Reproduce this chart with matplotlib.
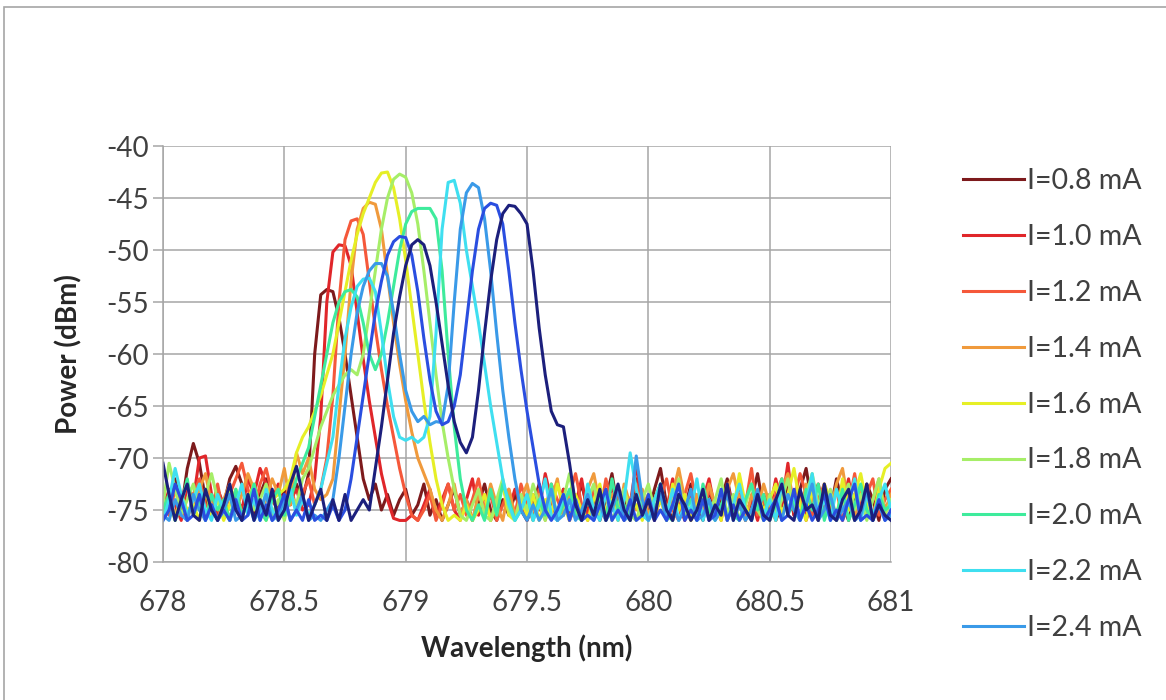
import numpy as np
import matplotlib
matplotlib.use("Agg")
import matplotlib.pyplot as plt
from matplotlib.patches import Rectangle

plt.rcParams['font.family'] = ['Lato', 'DejaVu Sans']
plt.rcParams['axes.unicode_minus'] = False

# wavelength grid of the OSA traces, 678 - 681 nm, 0.025 nm step
wavelength = np.linspace(678.0, 681.0, 121)

currents = ["0.8", "1.0", "1.2", "1.4", "1.6", "1.8", "2.0", "2.2", "2.4", "2.6", "2.8"]
colors = ["#7d1a1c", "#e0262a", "#f5583a", "#f09a3c", "#e6ef26", "#a6ee68",
          "#3eeb9c", "#3fdff0", "#3a9ae8", "#2a4ee0", "#1c1f7c"]
n_legend = 9  # only the first nine fit in the legend area

p08 = [-73.5,-74.5,-72.0,-75.0,-71.0,-68.6,-70.5,-74.0,-75.5,-73.0,
       -74.5,-72.0,-70.8,-72.5,-74.5,-75.5,-73.5,-72.0,-74.0,-75.0,
       -73.0,-74.5,-72.5,-74.0,-71.5,-60.0,-54.3,-53.8,-54.0,-56.5,
       -60.0,-64.0,-68.0,-72.0,-74.0,-72.5,-75.0,-73.5,-75.5,-74.0,
       -73.0,-75.5,-74.5,-72.5,-75.5,-74.0,-76.0,-74.5,-73.0,-75.5,
       -74.0,-76.0,-74.5,-72.5,-75.0,-76.0,-74.0,-75.5,-73.5,-75.0,
       -76.0,-74.5,-72.5,-75.5,-74.0,-76.0,-73.0,-75.5,-74.5,-72.5,
       -75.0,-73.5,-76.0,-74.0,-71.5,-75.0,-73.5,-76.0,-72.0,-74.5,
       -75.5,-73.0,-71.0,-74.5,-76.0,-73.5,-75.0,-72.5,-74.5,-76.0,
       -73.0,-75.5,-74.0,-72.0,-75.0,-73.5,-76.0,-74.0,-71.5,-75.0,
       -73.5,-76.0,-74.5,-72.5,-75.5,-73.0,-71.0,-74.5,-76.0,-73.5,
       -75.0,-72.0,-74.5,-76.0,-73.5,-75.0,-72.5,-74.0,-76.0,-73.0,-72.0]

p10 = [-75.0,-73.0,-74.5,-76.0,-72.5,-74.0,-70.0,-69.8,-73.5,-75.5,
       -74.0,-76.0,-73.5,-75.0,-72.0,-73.5,-71.0,-72.5,-74.0,-72.5,
       -75.5,-74.0,-73.0,-75.0,-74.5,-72.0,-66.0,-55.0,-50.2,-49.5,
       -49.6,-51.5,-56.0,-60.5,-64.5,-68.0,-71.5,-74.0,-75.8,-76.0,
       -76.0,-75.5,-76.0,-74.5,-73.0,-75.5,-74.0,-72.5,-75.0,-76.0,
       -74.0,-72.0,-75.5,-73.5,-76.0,-74.5,-72.5,-75.0,-73.0,-74.5,
       -76.0,-73.5,-75.0,-71.5,-74.0,-75.5,-73.0,-76.0,-74.5,-72.0,
       -75.5,-73.5,-74.5,-76.0,-72.5,-75.0,-73.0,-74.5,-70.5,-75.5,
       -74.0,-76.0,-73.5,-75.0,-72.0,-74.5,-76.0,-73.0,-75.5,-74.0,
       -72.0,-75.0,-73.5,-76.0,-74.5,-72.5,-75.5,-74.0,-76.0,-73.5,
       -75.0,-72.0,-74.5,-70.5,-75.5,-73.0,-76.0,-74.0,-72.5,-75.0,
       -73.5,-76.0,-74.5,-72.0,-75.5,-73.0,-74.5,-76.0,-72.5,-75.0,-74.0]

p12 = [-74.0,-75.5,-73.0,-74.5,-76.0,-73.5,-72.0,-74.5,-75.0,-72.5,
       -75.5,-73.5,-72.0,-70.5,-73.0,-75.0,-72.5,-71.0,-73.5,-75.5,
       -74.0,-72.5,-75.0,-73.5,-72.0,-74.5,-73.0,-70.0,-64.0,-55.0,
       -49.0,-47.2,-47.0,-48.5,-53.0,-57.5,-61.5,-65.0,-68.0,-71.0,
       -73.5,-75.5,-76.0,-75.0,-73.5,-76.0,-74.5,-72.5,-75.0,-73.5,
       -75.5,-74.0,-72.0,-75.0,-73.5,-76.0,-74.5,-73.0,-75.5,-72.5,
       -74.5,-76.0,-73.0,-75.0,-72.5,-74.0,-75.5,-73.5,-71.5,-74.5,
       -76.0,-73.0,-75.5,-72.0,-74.5,-73.5,-76.0,-74.0,-72.5,-75.0,
       -73.5,-75.5,-74.0,-72.0,-75.0,-76.0,-73.5,-71.5,-74.5,-75.5,
       -73.0,-74.5,-76.0,-72.5,-75.0,-73.5,-74.5,-71.0,-75.5,-74.0,
       -76.0,-73.5,-72.0,-75.0,-74.0,-71.5,-73.5,-75.5,-74.0,-72.5,
       -75.0,-73.0,-76.0,-74.5,-71.5,-75.0,-73.5,-72.0,-75.5,-74.0,-73.0]

p14 = [-75.0,-73.5,-75.5,-74.0,-72.5,-75.0,-73.0,-71.5,-74.5,-76.0,
       -74.0,-72.5,-75.0,-73.5,-71.5,-73.0,-75.5,-74.0,-72.0,-73.5,
       -71.0,-74.5,-69.5,-71.5,-70.0,-73.0,-74.0,-73.5,-72.0,-66.0,
       -60.0,-53.0,-48.0,-46.0,-45.4,-45.6,-48.0,-52.5,-57.0,-61.0,
       -64.5,-67.5,-70.0,-71.5,-73.0,-75.0,-76.0,-74.5,-72.5,-75.5,
       -74.0,-76.0,-73.5,-75.0,-72.5,-74.5,-76.0,-73.0,-75.5,-74.0,
       -72.5,-75.0,-73.5,-76.0,-74.0,-72.0,-75.5,-73.5,-74.5,-76.0,
       -73.0,-71.5,-74.5,-75.5,-73.5,-76.0,-72.5,-74.5,-75.0,-73.0,
       -75.5,-74.0,-72.5,-75.0,-73.5,-71.0,-74.0,-76.0,-73.5,-75.0,
       -72.5,-74.5,-75.5,-73.0,-71.5,-74.0,-76.0,-73.5,-75.0,-72.5,
       -74.5,-76.0,-73.0,-71.5,-74.5,-75.5,-72.5,-74.0,-76.0,-73.5,
       -75.0,-72.5,-71.0,-74.5,-76.0,-73.0,-75.5,-74.0,-72.0,-75.0,-73.5]

p16 = [-75.5,-74.0,-76.0,-73.5,-75.0,-74.5,-76.0,-73.0,-75.5,-74.0,
       -76.0,-74.5,-73.0,-75.5,-74.0,-72.5,-75.0,-76.0,-74.0,-73.5,
       -73.0,-72.0,-69.5,-68.0,-67.0,-65.5,-64.0,-62.0,-60.0,-57.0,
       -54.0,-51.0,-48.5,-46.5,-45.0,-43.5,-42.6,-42.5,-44.0,-47.0,
       -51.0,-55.5,-60.0,-64.5,-68.5,-72.0,-74.5,-76.0,-75.5,-76.0,
       -74.5,-76.0,-75.0,-73.5,-76.0,-74.5,-72.5,-75.5,-76.0,-74.0,
       -75.5,-73.5,-76.0,-74.0,-75.5,-72.5,-74.5,-76.0,-73.5,-75.0,
       -76.0,-74.0,-72.5,-75.5,-74.0,-76.0,-73.0,-75.0,-74.5,-76.0,
       -73.5,-75.5,-74.0,-76.0,-72.5,-75.0,-73.5,-76.0,-74.5,-73.0,
       -75.5,-74.0,-76.0,-73.0,-75.0,-71.5,-74.5,-76.0,-73.5,-75.0,
       -74.0,-72.5,-75.5,-73.5,-71.0,-74.5,-76.0,-73.0,-75.5,-72.5,
       -74.0,-76.0,-72.0,-75.0,-73.5,-71.5,-74.5,-76.0,-73.0,-71.0,-70.5]

p18 = [-74.5,-70.5,-73.0,-75.5,-74.0,-72.5,-75.0,-73.5,-71.5,-74.0,
       -75.5,-73.0,-74.5,-76.0,-73.5,-75.0,-74.0,-72.5,-75.5,-74.0,
       -76.0,-73.5,-74.5,-72.0,-71.0,-69.0,-67.0,-65.5,-64.0,-63.0,
       -62.0,-61.5,-62.0,-60.0,-56.0,-52.0,-48.0,-45.0,-43.2,-42.7,
       -43.0,-44.5,-47.5,-52.0,-57.0,-62.0,-66.5,-70.0,-73.0,-75.5,
       -76.0,-74.5,-73.0,-75.5,-76.0,-74.0,-72.0,-75.0,-76.0,-73.5,
       -75.0,-72.5,-74.5,-76.0,-73.5,-75.5,-74.0,-71.5,-75.0,-76.0,
       -74.0,-72.5,-75.5,-73.5,-76.0,-74.5,-73.0,-75.5,-76.0,-74.0,
       -72.5,-75.0,-73.5,-76.0,-74.5,-72.0,-75.5,-74.0,-76.0,-73.0,
       -75.0,-74.0,-72.0,-75.5,-73.5,-76.0,-74.5,-72.5,-75.0,-76.0,
       -73.5,-75.5,-74.0,-72.0,-75.0,-76.0,-73.5,-71.5,-74.5,-75.5,
       -73.0,-76.0,-74.5,-72.5,-75.0,-73.5,-76.0,-74.0,-72.0,-75.5,-74.0]

p20 = [-75.0,-73.5,-76.0,-74.5,-72.0,-75.5,-74.0,-76.0,-73.5,-75.0,
       -74.0,-76.0,-73.0,-75.5,-74.5,-72.5,-75.0,-76.0,-74.0,-73.0,
       -75.5,-74.0,-72.0,-70.5,-69.0,-66.0,-63.0,-60.0,-57.0,-55.0,
       -54.0,-53.8,-54.5,-57.0,-60.0,-61.5,-60.0,-57.0,-53.5,-50.0,
       -47.5,-46.3,-46.0,-46.0,-46.0,-47.0,-52.0,-60.0,-67.0,-72.0,
       -75.0,-76.0,-74.5,-76.0,-73.0,-75.5,-72.5,-74.0,-76.0,-75.0,
       -73.5,-76.0,-74.0,-75.5,-72.5,-76.0,-74.5,-73.0,-75.5,-76.0,
       -74.0,-75.5,-73.5,-76.0,-72.0,-75.0,-74.5,-76.0,-73.5,-75.0,
       -76.0,-74.0,-72.5,-75.5,-76.0,-73.5,-75.0,-74.0,-76.0,-72.5,
       -75.0,-76.0,-74.5,-73.0,-75.5,-76.0,-74.0,-72.5,-75.0,-73.5,
       -76.0,-74.5,-72.0,-75.5,-74.0,-76.0,-73.0,-75.0,-72.5,-76.0,
       -74.0,-75.5,-73.0,-76.0,-74.5,-72.5,-75.0,-76.0,-73.5,-75.0,-74.5]

p22 = [-76.0,-74.0,-71.0,-73.5,-75.5,-74.0,-72.5,-75.0,-76.0,-73.5,
       -75.0,-76.0,-74.5,-72.5,-75.5,-74.0,-76.0,-73.0,-75.0,-76.0,
       -74.5,-73.0,-75.5,-74.0,-75.5,-74.5,-73.0,-70.5,-68.0,-63.0,
       -58.5,-55.5,-53.5,-52.8,-52.7,-54.0,-58.0,-62.5,-66.0,-68.0,
       -68.3,-68.0,-68.5,-68.0,-66.0,-58.0,-48.0,-43.5,-43.3,-45.5,
       -50.0,-53.5,-57.0,-61.0,-65.0,-68.5,-72.0,-74.5,-76.0,-75.0,
       -73.5,-76.0,-74.5,-72.0,-75.5,-76.0,-73.5,-75.0,-74.0,-76.0,
       -72.5,-75.0,-76.0,-73.5,-74.5,-76.0,-74.0,-69.5,-73.0,-75.5,
       -76.0,-74.0,-72.5,-75.5,-73.0,-76.0,-74.5,-75.0,-72.0,-76.0,
       -74.0,-75.5,-73.0,-76.0,-74.5,-72.5,-75.0,-76.0,-73.5,-75.5,
       -74.0,-76.0,-72.5,-75.0,-73.5,-76.0,-74.5,-71.5,-75.5,-74.0,
       -76.0,-73.0,-75.0,-74.5,-72.0,-76.0,-73.5,-75.5,-74.0,-72.5,-75.0]

p24 = [-75.5,-76.0,-74.0,-75.5,-76.0,-73.5,-75.0,-76.0,-74.5,-76.0,
       -75.0,-73.5,-76.0,-75.5,-74.0,-76.0,-75.0,-73.5,-76.0,-75.5,
       -74.0,-76.0,-75.0,-73.5,-76.0,-75.5,-76.0,-75.0,-74.0,-70.0,
       -65.0,-60.0,-56.0,-53.5,-52.0,-51.3,-51.3,-52.5,-56.0,-60.0,
       -63.5,-65.5,-66.5,-66.0,-66.8,-66.5,-66.6,-63.0,-55.0,-48.0,
       -44.5,-43.6,-44.0,-47.0,-52.0,-58.0,-63.5,-68.0,-72.0,-75.0,
       -76.0,-74.5,-76.0,-75.0,-73.0,-76.0,-75.5,-74.0,-76.0,-75.0,
       -73.5,-76.0,-74.5,-76.0,-75.0,-73.0,-76.0,-75.5,-69.8,-74.0,
       -76.0,-75.0,-73.5,-76.0,-74.5,-76.0,-75.0,-73.0,-76.0,-75.5,
       -74.0,-76.0,-75.0,-73.5,-76.0,-74.5,-76.0,-75.0,-73.0,-76.0,
       -75.5,-74.0,-76.0,-73.5,-75.0,-76.0,-74.5,-72.5,-76.0,-75.0,
       -73.5,-76.0,-75.0,-74.0,-76.0,-75.5,-73.0,-76.0,-74.5,-76.0,-75.5]

p26 = [-76.0,-75.0,-72.5,-74.0,-76.0,-75.5,-73.5,-76.0,-74.5,-76.0,
       -75.0,-76.0,-74.0,-76.0,-75.5,-73.0,-76.0,-74.5,-76.0,-75.0,
       -73.5,-76.0,-75.0,-76.0,-74.0,-76.0,-75.5,-76.0,-74.5,-76.0,
       -75.0,-72.0,-68.0,-64.0,-60.0,-56.0,-53.0,-50.5,-49.2,-48.7,
       -48.8,-50.5,-54.0,-58.5,-62.5,-65.5,-66.8,-66.5,-65.0,-62.0,
       -57.0,-52.0,-48.0,-46.0,-45.5,-45.7,-47.5,-52.0,-57.0,-61.5,
       -65.5,-69.0,-72.5,-75.0,-76.0,-75.0,-73.5,-76.0,-74.0,-76.0,
       -75.5,-76.0,-74.5,-73.0,-76.0,-75.0,-76.0,-74.0,-76.0,-75.5,
       -73.5,-76.0,-75.0,-76.0,-74.5,-72.5,-76.0,-75.0,-76.0,-74.0,
       -76.0,-75.5,-73.0,-76.0,-74.5,-76.0,-75.0,-76.0,-73.5,-76.0,
       -75.0,-74.0,-76.0,-75.5,-73.0,-76.0,-74.5,-76.0,-75.0,-73.5,
       -76.0,-75.0,-76.0,-74.0,-72.5,-76.0,-75.5,-76.0,-74.0,-76.0,-75.0]

p28 = [-70.5,-73.5,-76.0,-74.0,-72.5,-75.5,-76.0,-73.0,-75.0,-76.0,
       -74.5,-72.5,-75.0,-76.0,-73.5,-76.0,-74.0,-75.5,-73.0,-76.0,
       -75.0,-72.5,-70.8,-73.5,-76.0,-74.5,-73.0,-76.0,-74.0,-76.0,
       -73.5,-76.0,-75.0,-74.0,-75.0,-71.0,-67.0,-62.5,-58.0,-54.5,
       -51.5,-49.5,-49.0,-49.5,-51.5,-55.0,-59.0,-63.0,-66.5,-68.5,
       -69.5,-68.0,-63.5,-58.0,-53.0,-49.0,-46.5,-45.7,-45.8,-46.5,
       -47.5,-52.0,-57.5,-62.0,-65.5,-66.8,-67.0,-70.5,-74.5,-76.0,
       -74.0,-75.5,-73.0,-76.0,-74.5,-72.5,-75.0,-76.0,-73.5,-75.5,
       -74.0,-76.0,-72.5,-75.0,-76.0,-73.5,-74.5,-76.0,-75.0,-73.0,
       -76.0,-74.5,-75.5,-72.5,-76.0,-74.0,-75.0,-76.0,-73.5,-75.5,
       -76.0,-74.0,-72.5,-75.5,-76.0,-73.0,-75.0,-74.5,-76.0,-72.5,
       -75.5,-76.0,-74.0,-73.0,-76.0,-75.0,-72.5,-76.0,-74.5,-75.5,-76.0]

spectra = [p08, p10, p12, p14, p16, p18, p20, p22, p24, p26, p28]

fig = plt.figure(figsize=(11.66, 7), dpi=100)
ax = fig.add_axes([0.1398, 0.1971, 0.6244, 0.5943])

# outer chart border
fig.patches.append(Rectangle((4 / 1166, -0.1), 1.2, 1 - 7 / 700 + 0.1, transform=fig.transFigure,
                             fill=False, edgecolor="#a6a6a6", linewidth=1.2))

for i in range(len(spectra)):
    lab = "I=" + currents[i] + " mA" if i < n_legend else "_nolegend_"
    ax.plot(wavelength, spectra[i], color=colors[i], lw=2.2, label=lab)

ax.set_xlim(678, 681)
ax.set_ylim(-80, -40)
ax.set_xticks([678, 678.5, 679, 679.5, 680, 680.5, 681])
ax.set_xticklabels(["678", "678.5", "679", "679.5", "680", "680.5", "681"])
ax.set_yticks(range(-80, -39, 5))
ax.grid(True, color="#a6a6a6", lw=1.1)
ax.set_axisbelow(True)
for s in ["top", "right"]:
    ax.spines[s].set_visible(False)
for s in ["left", "bottom"]:
    ax.spines[s].set_color("#a6a6a6")
    ax.spines[s].set_linewidth(1.1)

ax.tick_params(axis="x", length=0, pad=20, labelsize=20, labelcolor="#404040")
ax.tick_params(axis="y", length=7, width=1.1, color="#a6a6a6", pad=3, labelsize=20, labelcolor="#404040")

ax.set_xlabel("Wavelength (nm)", fontsize=20, fontweight="bold", color="#262626")
ax.set_ylabel("Power (dBm)", fontsize=20, fontweight="bold", color="#262626")
ax.xaxis.set_label_coords(0.5, -0.175)
ax.yaxis.set_label_coords(-0.11, 0.5)

fig.legend(loc="upper left", bbox_to_anchor=(963 / 1166, 1 - 168 / 700), frameon=False,
           fontsize=20.5, handlelength=2.15, handletextpad=0.1, labelspacing=1.05,
           borderpad=0, borderaxespad=0, labelcolor="#404040")

fig.savefig("out.png", dpi=100)
